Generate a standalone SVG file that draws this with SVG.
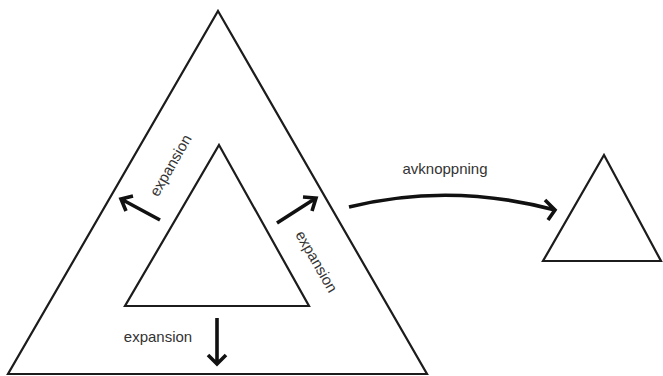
<svg xmlns="http://www.w3.org/2000/svg" width="663" height="376" viewBox="0 0 663 376">
<style>
.tri{fill:none;stroke:#1c1c1c;stroke-width:2.2;stroke-linejoin:miter}
.arr{fill:none;stroke:#111;stroke-width:3.6;stroke-linecap:butt;stroke-linejoin:miter}
.lbl{font-family:"Liberation Sans",Arial,sans-serif;font-size:15px;fill:#333}
</style>
<rect width="663" height="376" fill="#fff"/>
<g id="outer-triangle"><polygon class="tri" points="218,11 427,374 8,374"/></g>
<g id="inner-triangle"><polygon class="tri" points="219,145 309,306 125,306"/></g>
<g id="small-triangle"><polygon class="tri" points="604,155 661,261 543,261"/></g>
<g id="connectors">
<path class="arr" d="M160,220 L121,199 M133,196 L121,199 L126,211"/>
<path class="arr" d="M277,223 L316,198 M303,197 L316,198 L312,211"/>
<path class="arr" d="M217,318 L217,364 M208,355 L217,364 L226,355"/>
<path class="arr" d="M349,207 Q450,182 555,210 M545,200 L555,210 L548,220"/>
</g>
<g id="labels">
<text class="lbl" x="445" y="174" text-anchor="middle">avknoppning</text>
<text class="lbl" x="158" y="342" text-anchor="middle">expansion</text>
<text class="lbl" transform="translate(175,168) rotate(-60)" text-anchor="middle">expansion</text>
<text class="lbl" transform="translate(312,264) rotate(60)" text-anchor="middle">expansion</text>
</g>
</svg>
